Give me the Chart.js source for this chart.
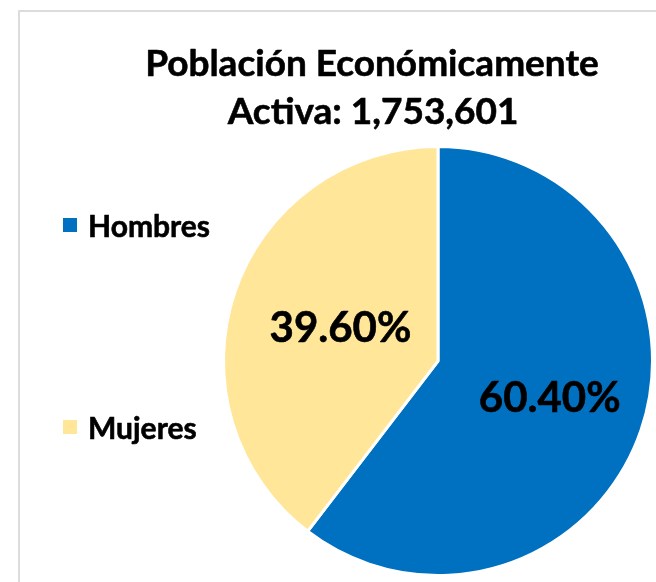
<!DOCTYPE html>
<html><head><meta charset="utf-8">
<script src="https://cdn.jsdelivr.net/npm/chart.js@4"></script>
<style>
html,body{margin:0;padding:0;background:#fff;}
#wrap{position:relative;width:656px;height:582px;overflow:hidden;}
#frame{position:absolute;left:18px;top:10px;width:700px;height:700px;border-top:2px solid #dcdcdc;border-left:2px solid #dcdcdc;}
canvas{position:absolute;left:0;top:0;}
</style></head>
<body>
<div id="wrap"><div id="frame"></div><canvas id="c" width="656" height="582"></canvas></div>
<script>
const titleLines = ["Población Económicamente", "Activa: 1,753,601"];
const categories = ["Hombres", "Mujeres"];
const shares = [60.40, 39.60];
const valueLabels = ["60.40%", "39.60%"];
const colors = ["#0070C0", "#FFE699"];
const FONT = "Lato, 'Open Sans', sans-serif";

const overlay = {
  id: 'overlay',
  afterDraw(chart) {
    const ctx = chart.ctx;
    ctx.save();
    ctx.fillStyle = '#000';
    ctx.strokeStyle = '#000';
    ctx.lineJoin = 'round';
    // title
    ctx.font = "bold 37px " + FONT;
    ctx.textAlign = 'center';
    ctx.textBaseline = 'alphabetic';
    ctx.lineWidth = 0.6;
    ctx.fillText(titleLines[0], 372, 76);
    ctx.strokeText(titleLines[0], 372, 76);
    ctx.fillText(titleLines[1], 373, 124);
    ctx.strokeText(titleLines[1], 373, 124);
    // legend
    const legendY = [225, 427];
    ctx.font = "bold 30px " + FONT;
    ctx.textAlign = 'left';
    ctx.textBaseline = 'middle';
    categories.forEach((c, i) => {
      ctx.fillStyle = colors[i];
      ctx.fillRect(63, legendY[i] - 7, 14, 14);
      ctx.fillStyle = '#000';
      ctx.fillText(c, 88, legendY[i] + 2);
      ctx.strokeText(c, 88, legendY[i] + 2);
    });
    // value labels
    const meta = chart.getDatasetMeta(0);
    const factors = [0.55, 0.48];
    ctx.font = "bold 42px " + FONT;
    ctx.textAlign = 'center';
    ctx.textBaseline = 'middle';
    meta.data.forEach((arc, i) => {
      const mid = (arc.startAngle + arc.endAngle) / 2;
      const r = arc.outerRadius * factors[i];
      ctx.fillText(valueLabels[i], arc.x + Math.cos(mid) * r, arc.y + Math.sin(mid) * r);
      ctx.strokeText(valueLabels[i], arc.x + Math.cos(mid) * r, arc.y + Math.sin(mid) * r);
    });
    ctx.restore();
  }
};

new Chart(document.getElementById('c'), {
  type: 'pie',
  data: {
    labels: categories,
    datasets: [{
      data: shares,
      backgroundColor: colors,
      borderColor: '#ffffff',
      borderWidth: 3
    }]
  },
  options: {
    responsive: false,
    animation: false,
    layout: { padding: { left: 222, right: 2, top: 145, bottom: 5 } },
    plugins: { legend: { display: false }, title: { display: false }, tooltip: { enabled: false } }
  },
  plugins: [overlay]
});
</script>
</body></html>
